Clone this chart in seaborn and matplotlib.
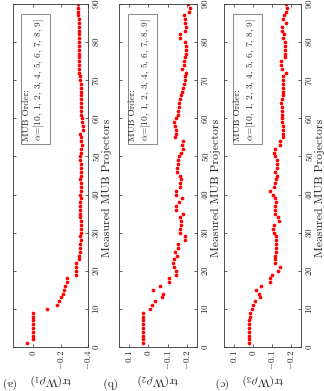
import numpy as np
import pandas as pd
import matplotlib
matplotlib.use("Agg")
import matplotlib.pyplot as plt
import seaborn as sns
from matplotlib.ticker import FixedLocator, FuncFormatter

# measured MUB projector index (1..90)
projectors = list(range(1, 91))

# tr(W rho_1), panel (a)
trace_rho1 = [0.044, 0.0, 0.0, 0.0, 0.0, 0.0, 0.0, 0.0, 0.0, -0.10,
              -0.17, -0.19, -0.205, -0.215, -0.225, -0.232, -0.248, -0.245, -0.31, -0.31,
              -0.312, -0.315, -0.333, -0.336, -0.338, -0.342, -0.345, -0.348, -0.345, -0.346,
              -0.346, -0.347, -0.347, -0.338, -0.344, -0.345, -0.345, -0.344, -0.346, -0.345,
              -0.346, -0.347, -0.346, -0.345, -0.346, -0.347, -0.347, -0.348, -0.343, -0.345,
              -0.346, -0.348, -0.355, -0.348, -0.350, -0.342, -0.362, -0.360, -0.358, -0.357,
              -0.347, -0.352, -0.350, -0.349, -0.350, -0.349, -0.347, -0.347, -0.346, -0.338,
              -0.338, -0.337, -0.337, -0.336, -0.336, -0.335, -0.335, -0.334, -0.334, -0.334,
              -0.333, -0.333, -0.332, -0.332, -0.331, -0.331, -0.330, -0.330, -0.329, -0.329]

# tr(W rho_2), panel (b)
trace_rho2 = [0.03, 0.03, 0.03, 0.03, 0.03, 0.03, 0.03, 0.03, 0.03, -0.007,
              -0.019, -0.036, -0.07, -0.075, -0.026, -0.06, -0.107, -0.107, -0.142, -0.142,
              -0.13, -0.126, -0.13, -0.147, -0.138, -0.152, -0.152, -0.19, -0.19, -0.164,
              -0.164, -0.166, -0.166, -0.161, -0.176, -0.143, -0.143, -0.157, -0.173, -0.141,
              -0.141, -0.16, -0.164, -0.167, -0.162, -0.147, -0.147, -0.15, -0.15, -0.157,
              -0.169, -0.176, -0.174, -0.176, -0.138, -0.143, -0.143, -0.138, -0.13, -0.141,
              -0.15, -0.152, -0.155, -0.157, -0.165, -0.17, -0.175, -0.18, -0.184, -0.187,
              -0.19, -0.192, -0.172, -0.182, -0.184, -0.19, -0.193, -0.193, -0.193, -0.188,
              -0.162, -0.165, -0.19, -0.193, -0.19, -0.188, -0.185, -0.21, -0.212, -0.205]

# tr(W rho_3), panel (c)
trace_rho3 = [0.021, 0.021, 0.021, 0.021, 0.021, 0.021, 0.021, 0.018, 0.016, 0.003,
              -0.002, -0.012, -0.038, -0.03, -0.017, -0.042, -0.09, -0.09, -0.1, -0.128,
              -0.142, -0.115, -0.116, -0.117, -0.118, -0.118, -0.119, -0.119, -0.12, -0.108,
              -0.105, -0.108, -0.135, -0.13, -0.113, -0.115, -0.116, -0.118, -0.116, -0.105,
              -0.088, -0.108, -0.112, -0.122, -0.125, -0.113, -0.125, -0.126, -0.125, -0.112,
              -0.108, -0.113, -0.138, -0.141, -0.158, -0.158, -0.158, -0.158, -0.153, -0.152,
              -0.151, -0.15, -0.149, -0.146, -0.152, -0.154, -0.155, -0.156, -0.157, -0.158,
              -0.158, -0.17, -0.152, -0.148, -0.146, -0.168, -0.167, -0.166, -0.165, -0.164,
              -0.157, -0.16, -0.153, -0.15, -0.172, -0.157, -0.16, -0.172, -0.175, -0.172]

panel_tags = ["(a)", "(b)", "(c)"]
panel_labels = [r"$\mathrm{tr}(\mathrm{W}\rho_1)$", r"$\mathrm{tr}(\mathrm{W}\rho_2)$",
                r"$\mathrm{tr}(\mathrm{W}\rho_3)$"]
panel_ticks = [[0, -0.2, -0.4], [0.1, 0, -0.1, -0.2], [0.1, 0, -0.1, -0.2]]
panel_limits = [(0.15, -0.4), (0.15, -0.25), (0.15, -0.25)]
proj_ticks = [0, 10, 20, 30, 40, 50, 60, 70, 80, 90]
box_text = "MUB Order:\n" + r"$\alpha$=[10, 1, 2, 3, 4, 5, 6, 7, 8, 9]"

sns.set_style("ticks")
plt.rcParams["font.family"] = ["cmr10", "DejaVu Serif"]
plt.rcParams["mathtext.fontset"] = "cm"
plt.rcParams["axes.unicode_minus"] = False
plt.rcParams["axes.linewidth"] = 0.6

# the whole figure is drawn turned a quarter turn (as in the reference)
fig = plt.figure(figsize=(3.24, 3.91), dpi=100)
W, H = 324, 391
boxes = [(12.7, 88.0), (119.3, 197.0), (224.3, 301.0)]
top_px, bot_px = 4, 347
tag_x = [7, 108, 220]

for i, vals in enumerate([trace_rho1, trace_rho2, trace_rho3]):
    x0, x1 = boxes[i]
    ax = fig.add_axes([x0 / W, 1 - bot_px / H, (x1 - x0) / W, (bot_px - top_px) / H])
    df = pd.DataFrame({"proj": projectors, "tr": vals})
    sns.scatterplot(data=df, x="tr", y="proj", color="red", s=7, linewidth=0,
                    legend=False, ax=ax)
    ax.set_xlim(*panel_limits[i])
    ax.set_ylim(0, 90)
    ax.xaxis.set_major_locator(FixedLocator(panel_ticks[i]))
    ax.xaxis.set_major_formatter(FuncFormatter(lambda v, p: f"${v:g}$"))
    ax.yaxis.set_major_locator(FixedLocator(proj_ticks))
    ax.yaxis.set_major_formatter(FuncFormatter(lambda v, p: f"${v:g}$"))
    ax.yaxis.tick_right()
    ax.yaxis.set_label_position("right")
    ax.tick_params(direction="in", length=2, width=0.5, labelsize=6.5,
                   top=True, bottom=True, left=True, right=True, pad=2)
    for lab in ax.get_xticklabels():
        lab.set_rotation(90)
        lab.set_va("top")
        lab.set_ha("center")
    for lab in ax.get_yticklabels():
        lab.set_rotation(90)
        lab.set_va("center")
        lab.set_ha("left")
    for sp in ax.spines.values():
        sp.set_color("#333333")
    ax.set_xlabel(panel_labels[i], rotation=180, fontsize=8.5, va="center", ha="center")
    ax.xaxis.set_label_coords(0.5, -(380 - bot_px) / (bot_px - top_px))
    ax.set_ylabel("Measured MUB Projectors", rotation=90, fontsize=8.5,
                  va="center", ha="center")
    ax.yaxis.set_label_coords(1 + 18.5 / (x1 - x0), (bot_px - 188) / (bot_px - top_px))
    ax.text(0.125, 0.96, box_text, transform=ax.transAxes, rotation=90,
            ha="left", va="top", fontsize=6.8, linespacing=1.3,
            bbox=dict(boxstyle="square,pad=0.35", facecolor="white",
                      edgecolor="#777777", linewidth=0.6))
    fig.text(tag_x[i] / W, 1 - 383 / H, panel_tags[i], rotation=180,
             ha="center", va="center", fontsize=8.5)

fig.savefig("out.png", dpi=100)
